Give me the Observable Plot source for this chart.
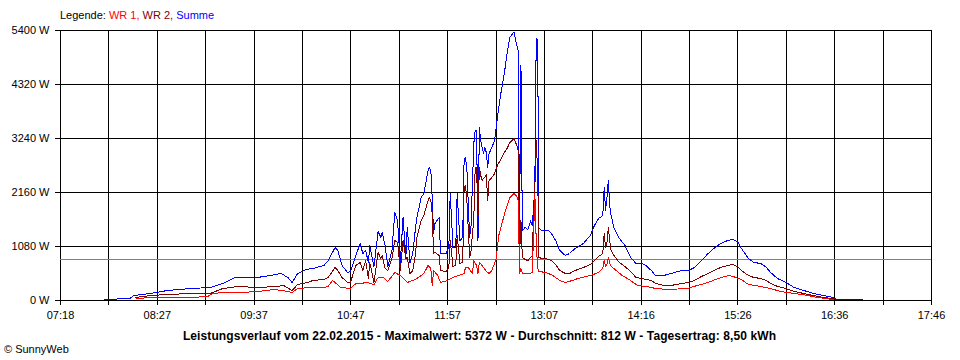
<!DOCTYPE html>
<html><head><meta charset="utf-8">
<script src="https://cdn.jsdelivr.net/npm/d3@7"></script>
<script src="https://cdn.jsdelivr.net/npm/@observablehq/plot@0.6"></script>
<style>
body{margin:0;background:#fff;font-family:"Liberation Sans",Arial,sans-serif;}
#wrap{position:relative;width:960px;height:360px;overflow:hidden;}
#legend{position:absolute;left:60px;top:9px;font-size:11px;color:#000;white-space:nowrap;}
#caption{position:absolute;left:0;width:959px;top:329px;text-align:center;font-size:12px;letter-spacing:0.1px;font-weight:bold;color:#000;white-space:nowrap;}
#copy{position:absolute;left:4px;top:343px;font-size:11px;color:#000;}
svg{shape-rendering:crispEdges;}
</style></head>
<body>
<div id="wrap">
  <div id="chart"></div>
  <div id="legend">Legende: <span style="color:#FF0000">WR 1,</span> <span style="color:#800000">WR 2,</span> <span style="color:#0000FF">Summe</span></div>
  <div id="caption">Leistungsverlauf vom 22.02.2015 - Maximalwert: 5372 W - Durchschnitt: 812 W - Tagesertrag: 8,50 kWh</div>
  <div id="copy">© SunnyWeb</div>
</div>
<script>
const startTime = "07:18";
const endTime = "17:46";
const xTickLabels = ["07:18","08:27","09:37","10:47","11:57","13:07","14:16","15:26","16:36","17:46"];
const yTicks = [0,1080,2160,3240,4320,5400];
const average = 812;

const sumTimes = ["07:50","08:08","08:11","08:23","08:35","08:52","09:06","09:15","09:24","09:40","09:49","09:57","10:02","10:05","10:09","10:15","10:20","10:28","10:31","10:36","10:38","10:41","10:45","10:47","10:51","10:54","10:56","10:58","11:00","11:01","11:04","11:07","11:09","11:10","11:12","11:14","11:17","11:19","11:21","11:23","11:25","11:27","11:28","11:30","11:32","11:34","11:35","11:38","11:40","11:43","11:44","11:45","11:46","11:47","11:48","11:51","11:52","11:56","11:58","11:59","12:01","12:03","12:04","12:06","12:08","12:09","12:10","12:11","12:13","12:14","12:16","12:17","12:18","12:19","12:20","12:21","12:22","12:23","12:24","12:25","12:26","12:27","12:29","12:31","12:33","12:35","12:38","12:40","12:42","12:45","12:47","12:48","12:49","12:50","12:51","12:53","12:55","12:57","12:58","12:59","13:00","13:01","13:02","13:03","13:05","13:08","13:10","13:12","13:15","13:18","13:22","13:25","13:29","13:35","13:40","13:43","13:46","13:49","13:50","13:51","13:52","13:53","13:54","13:55","13:57","14:01","14:05","14:09","14:13","14:17","14:20","14:24","14:27","14:33","14:38","14:46","14:51","14:55","15:00","15:05","15:09","15:14","15:19","15:23","15:26","15:29","15:34","15:38","15:43","15:47","15:50","15:55","16:01","16:07","16:14","16:21","16:28","16:35","16:38","16:56"];
const sumWatts = [20,40,100,140,200,240,260,340,460,460,500,540,460,360,540,620,640,700,800,1060,1000,700,560,580,900,1140,940,1000,760,1100,680,1380,1260,1360,1100,680,1000,1760,1600,760,1660,860,1460,760,940,1460,1660,2060,2140,2600,2660,2600,2060,1340,1540,1660,940,940,1060,2140,1060,1060,2140,1200,1260,2800,2860,2640,1260,1500,3140,3400,3400,1200,3460,3200,3060,2940,3060,2960,2660,2940,3060,3200,3660,4060,4540,4940,5260,5372,5100,5000,1500,4700,1400,1460,1420,1600,1500,1800,2300,5240,5200,1440,1400,1400,1400,1340,1200,1000,900,940,1040,1140,1300,1500,1640,1700,2260,1800,2060,2400,1900,1700,1460,1240,1100,860,740,740,700,600,500,500,540,600,600,660,800,940,1040,1140,1200,1220,1180,1040,840,760,740,660,560,440,360,260,200,140,100,60,20,20];

const wr2Times = ["08:12","08:23","08:35","08:52","09:06","09:15","09:26","09:40","09:54","09:59","10:05","10:09","10:16","10:20","10:28","10:31","10:36","10:38","10:41","10:45","10:47","10:51","10:54","10:56","10:58","11:00","11:01","11:04","11:07","11:09","11:10","11:12","11:14","11:17","11:19","11:21","11:23","11:25","11:27","11:28","11:30","11:32","11:34","11:35","11:38","11:40","11:43","11:44","11:45","11:46","11:47","11:48","11:51","11:52","11:56","11:58","11:59","12:01","12:03","12:04","12:06","12:08","12:09","12:10","12:11","12:13","12:14","12:16","12:17","12:18","12:19","12:20","12:21","12:22","12:23","12:24","12:25","12:26","12:27","12:29","12:31","12:33","12:35","12:38","12:40","12:42","12:45","12:47","12:48","12:49","12:50","12:51","12:53","12:55","12:57","12:58","12:59","13:00","13:01","13:02","13:03","13:05","13:08","13:10","13:12","13:15","13:18","13:22","13:25","13:29","13:35","13:40","13:43","13:46","13:49","13:50","13:51","13:52","13:53","13:54","13:55","13:57","14:01","14:05","14:09","14:13","14:17","14:20","14:24","14:27","14:33","14:38","14:46","14:51","14:55","15:00","15:05","15:09","15:14","15:19","15:23","15:26","15:29","15:34","15:38","15:43","15:47","15:50","15:55","16:01","16:07","16:14","16:21","16:28","16:35","16:38"];
const wr2Watts = [60,100,120,140,140,240,280,260,280,300,200,320,360,400,420,460,660,600,460,360,360,700,760,600,800,440,760,360,960,840,900,640,600,840,1200,1160,600,1200,840,860,540,600,940,1260,1600,1700,2000,2060,2000,1740,940,960,900,600,580,660,1200,680,700,1300,740,760,2260,2300,2000,860,1000,1640,2660,2660,1660,2660,2500,2400,2440,2460,2520,2000,2400,2460,2540,2700,2800,2960,3040,3160,3240,3100,3000,900,1600,860,820,800,860,880,1600,2260,3200,2600,860,840,840,820,800,720,600,540,540,600,660,720,800,880,940,1340,1060,1160,1460,1200,1000,900,760,680,580,460,440,420,400,340,300,300,340,360,400,480,540,600,660,700,720,680,600,500,460,440,400,340,280,240,180,140,100,60,40,20];

const wr1Times = ["08:13","08:23","08:35","08:52","09:04","09:08","09:15","09:28","09:40","09:52","10:02","10:05","10:09","10:18","10:28","10:31","10:34","10:36","10:40","10:47","10:51","10:54","10:59","11:04","11:07","11:11","11:14","11:19","11:23","11:28","11:32","11:35","11:40","11:43","11:45","11:46","11:47","11:50","11:52","11:57","12:01","12:09","12:10","12:12","12:15","12:16","12:18","12:19","12:20","12:22","12:25","12:27","12:29","12:32","12:34","12:38","12:42","12:45","12:47","12:48","12:49","12:50","12:51","12:57","12:58","12:59","13:00","13:01","13:02","13:03","13:08","13:13","13:18","13:22","13:27","13:31","13:40","13:46","13:49","13:50","13:51","13:52","13:53","13:54","13:55","13:57","14:03","14:09","14:14","14:21","14:27","14:36","14:50","14:57","15:05","15:12","15:20","15:23","15:29","15:34","15:43","15:50","15:57","16:07","16:17","16:24","16:35"];
const wr1Watts = [40,60,60,60,80,140,160,160,180,220,180,160,240,260,260,280,400,360,260,240,340,340,360,320,460,460,380,560,500,360,400,440,540,700,640,300,600,500,360,400,460,540,660,660,540,800,700,540,760,700,580,540,600,820,1300,1720,2060,2140,2080,2000,540,640,540,540,560,1200,2140,1200,640,580,560,500,400,360,400,440,500,560,640,800,680,720,860,740,680,640,500,400,300,280,240,220,240,300,360,440,500,480,420,320,280,240,180,140,100,60,20];

const toMin = s => { const [h, m] = s.split(":").map(Number); return h * 60 + m; };
const series = (times, watts) => times.map((t, i) => ({t: toMin(t), w: watts[i]}));
const sumData = series(sumTimes, sumWatts);
const wr2Data = series(wr2Times, wr2Watts);
const wr1Data = series(wr1Times, wr1Watts);

const t0 = toMin(startTime), t1 = toMin(endTime);
const nGrid = (xTickLabels.length - 1) * 2;
const gridTimes = d3.range(nGrid + 1).map(k => t0 + k * (t1 - t0) / nGrid);
const labelFor = d => {
  const k = Math.round((d - t0) / ((t1 - t0) / nGrid));
  return k % 2 === 0 ? xTickLabels[k / 2] : "";
};

const chart = Plot.plot({
  width: 960, height: 360,
  marginTop: 30, marginRight: 29, marginBottom: 60, marginLeft: 60,
  x: {domain: [t0, t1], label: null},
  y: {domain: [0, 5400], label: null},
  style: {fontFamily: '"Liberation Sans", Arial, sans-serif', fontSize: "11px", color: "#000", background: "#fff"},
  marks: [
    Plot.gridY(yTicks, {stroke: "#000", strokeOpacity: 1, strokeWidth: 1}),
    Plot.gridX(gridTimes, {stroke: "#000", strokeOpacity: 1, strokeWidth: 1}),
    Plot.ruleY([average], {stroke: "#808080", strokeWidth: 1}),
    Plot.line(sumData, {x: "t", y: "w", stroke: "#0000FF", strokeWidth: 1}),
    Plot.line(wr2Data, {x: "t", y: "w", stroke: "#800000", strokeWidth: 1}),
    Plot.line(wr1Data, {x: "t", y: "w", stroke: "#FF0000", strokeWidth: 1}),
    Plot.axisY(yTicks, {tickSize: 5, tickPadding: 6, tickFormat: d => d + " W", fontSize: 11, label: null}),
    Plot.axisX(gridTimes, {tickSize: 5, tickPadding: 6, tickFormat: labelFor, fontSize: 11, label: null})
  ]
});
document.getElementById("chart").appendChild(chart);
</script>
</body></html>
